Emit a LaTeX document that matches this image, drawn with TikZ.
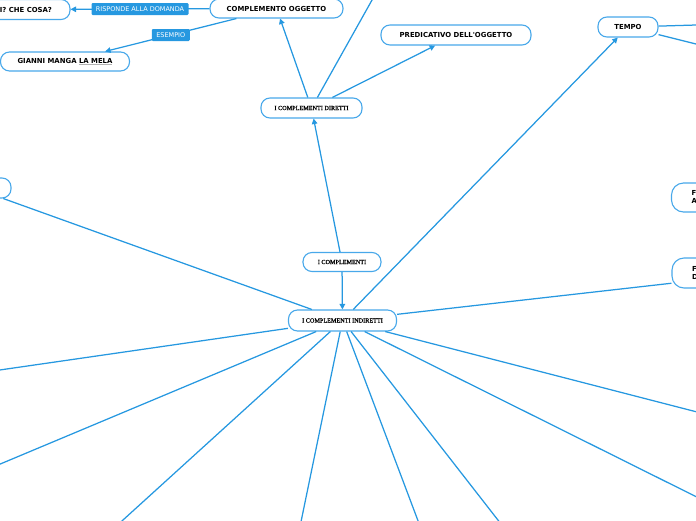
\documentclass[tikz,border=0pt]{standalone}
\usepackage{fontspec}
\newfontfamily\vfont{DejaVu Sans}
\newfontfamily\oddfont{Liberation Serif}[FakeBold=1.2]
\usetikzlibrary{arrows.meta}
\definecolor{lineblue}{RGB}{38,152,224}
\definecolor{boxblue}{RGB}{72,168,234}
\tikzset{
  mm/.style={draw=boxblue, line width=1.1pt, rounded corners=9pt, fill=white, inner sep=0pt, align=center, text=black, font=\vfont\bfseries\fontsize{6.9}{8}\selectfont},
  oddbox/.style={mm, font=\oddfont\fontsize{6.2}{7}\selectfont},
  conn/.style={draw=lineblue, line width=1.25pt},
  arr/.style={conn, -{Triangle[length=5.5pt,width=5.5pt]}},
  lab/.style={fill=lineblue, text=white, rounded corners=1.2pt, inner sep=0pt, minimum height=12pt, font=\vfont\fontsize{6.5}{7}\selectfont}
}
\begin{document}
\begin{tikzpicture}[x=1pt,y=-1pt]
\useasboundingbox (0,0) rectangle (696,520);
\clip (0,0) rectangle (696,520);
% nodes
\node[mm, minimum width=133pt, minimum height=19pt] (co) at (276.5,8.5) {COMPLEMENTO OGGETTO};
\node[mm, minimum width=99pt, minimum height=20pt] (chi) at (20.5,9.5) {CHI? CHE COSA?};
\node[mm, minimum width=129pt, minimum height=19pt] (gianni) at (65,61.5) {GIANNI MANGA {\color{gray!60}\underline{\color{black}LA MELA}}};
\node[mm, minimum width=150pt, minimum height=20pt] (pred) at (456,35) {PREDICATIVO DELL'OGGETTO};
\node[mm, minimum width=60pt, minimum height=20pt] (tempo) at (628,27) {TEMPO};
\node[oddbox, minimum width=101pt, minimum height=20pt] (dir) at (311.5,108) {I COMPLEMENTI DIRETTI};
\node[oddbox, minimum width=78pt, minimum height=19pt] (compl) at (342,262) {I COMPLEMENTI};
\node[oddbox, minimum width=108pt, minimum height=21pt] (ind) at (342.5,320.5) {I COMPLEMENTI INDIRETTI};
\node[mm, minimum width=180pt, minimum height=29pt, rounded corners=12pt, text width=140pt, align=left] (r1) at (761.5,197.5) {FINE\\AGENTE};
\node[mm, minimum width=180pt, minimum height=30pt, rounded corners=12pt, text width=140pt, align=left] (r2) at (762,273) {FONTE\\DURATA};
\node[mm, minimum width=74pt, minimum height=20pt] (lnode) at (-26,188) {};
% off-canvas ends
\coordinate (e1) at (375.4,-6);
\coordinate (t1) at (710,24.6);
\coordinate (t2) at (710,47.5);
\coordinate (b1) at (-10,371.4);
\coordinate (b2) at (-10,468.3);
\coordinate (b3) at (112,530);
\coordinate (b4) at (299.3,530);
\coordinate (b5) at (421.5,530);
\coordinate (b6) at (505.7,530);
\coordinate (b7) at (706,501.6);
\coordinate (b8) at (706,414.3);
% connectors
\draw[arr] (co) -- node[lab, minimum width=97pt]{RISPONDE ALLA DOMANDA} (chi);
\draw[arr] (co) -- node[lab, minimum width=38pt]{ESEMPIO} (gianni);
\draw[arr] (dir) -- (co);
\draw[conn] (dir) -- (e1);
\draw[arr] (dir) -- (pred);
\draw[arr] (compl) -- (dir);
\draw[arr] (compl) -- (ind);
\draw[arr] (ind) -- (tempo);
\draw[conn] (tempo) -- (t1);
\draw[conn] (tempo) -- (t2);
\draw[conn] (ind) -- (r2);
\draw[conn] (ind) -- (lnode);
\draw[conn] (ind) -- (b1);
\draw[conn] (ind) -- (b2);
\draw[conn] (ind) -- (b3);
\draw[conn] (ind) -- (b4);
\draw[conn] (ind) -- (b5);
\draw[conn] (ind) -- (b6);
\draw[conn] (ind) -- (b7);
\draw[conn] (ind) -- (b8);
\end{tikzpicture}
\end{document}
